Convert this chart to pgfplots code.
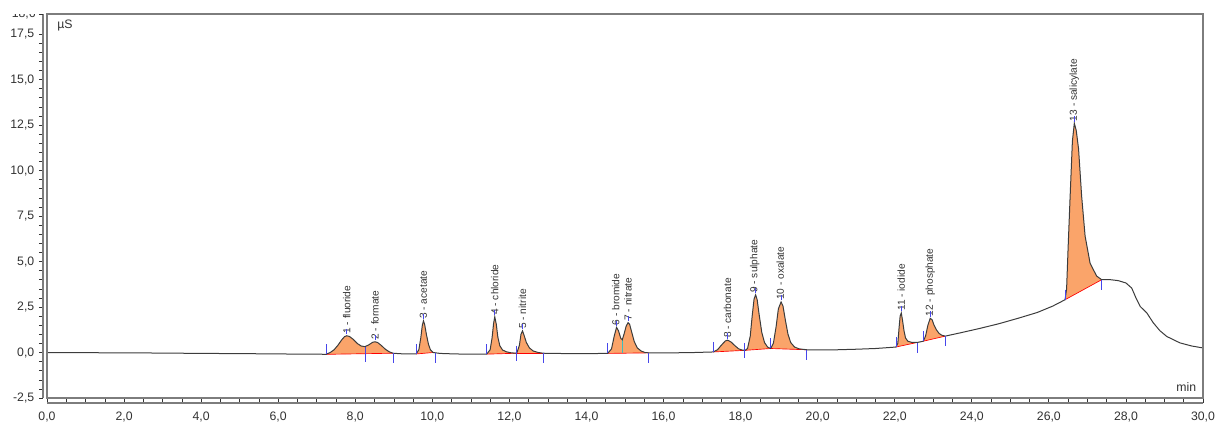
\documentclass[border=0pt]{standalone}
\usepackage{fontspec}
\setmainfont{Liberation Sans}
\usepackage{pgfplots}
\usepackage{pgfplotstable}
\pgfplotsset{compat=1.18}

\definecolor{peakfill}{RGB}{250,164,106}
\definecolor{curvecol}{RGB}{60,60,60}
\definecolor{boxgray}{RGB}{125,125,125}
\definecolor{markblue}{RGB}{70,70,235}
\definecolor{splitcol}{RGB}{60,190,190}
\definecolor{txt}{RGB}{50,50,50}

% chromatogram, time (min) vs conductivity (uS)
\pgfplotstableread{
x y
0 0.00
1 -0.01
2 -0.02
3 -0.03
4 -0.05
5 -0.06
6 -0.08
7 -0.09
7.24 -0.10
7.35 0.0
7.45 0.15
7.55 0.40
7.65 0.70
7.72 0.87
7.78 0.92
7.85 0.88
7.95 0.72
8.05 0.50
8.15 0.36
8.25 0.32
8.35 0.42
8.45 0.56
8.51 0.59
8.58 0.55
8.68 0.38
8.78 0.18
8.88 0.04
8.98 -0.04
9.2 -0.07
9.58 -0.08
9.65 0.15
9.70 0.80
9.74 1.50
9.77 1.74
9.80 1.55
9.85 0.95
9.90 0.45
9.95 0.15
10.02 0.0
10.2 -0.05
10.6 -0.08
11.0 -0.09
11.41 -0.09
11.50 0.15
11.55 0.8
11.59 1.6
11.62 1.96
11.66 1.55
11.70 0.85
11.75 0.38
11.82 0.14
11.92 0.04
12.05 -0.02
12.19 -0.04
12.26 0.4
12.30 1.0
12.34 1.19
12.38 0.95
12.44 0.55
12.52 0.25
12.62 0.08
12.75 0.0
12.88 -0.04
13.5 -0.06
14.0 -0.06
14.55 -0.05
14.65 0.2
14.72 0.9
14.78 1.38
14.83 1.2
14.89 0.78
14.93 0.70
14.98 1.05
15.03 1.45
15.08 1.64
15.12 1.55
15.17 1.15
15.24 0.6
15.32 0.25
15.42 0.08
15.52 0.0
15.62 -0.02
16.2 -0.02
16.8 0.0
17.29 0.03
17.4 0.15
17.5 0.4
17.6 0.63
17.66 0.68
17.75 0.58
17.85 0.38
17.95 0.2
18.05 0.13
18.12 0.12
18.18 0.22
18.25 0.9
18.30 2.0
18.35 2.95
18.39 3.17
18.43 2.9
18.48 2.1
18.55 1.1
18.62 0.55
18.70 0.3
18.78 0.22
18.85 0.5
18.92 1.4
18.98 2.4
19.05 2.78
19.10 2.55
19.16 1.8
19.23 1.0
19.30 0.55
19.40 0.3
19.52 0.2
19.72 0.15
20.5 0.15
21.0 0.18
21.5 0.22
22.03 0.30
22.08 0.5
22.11 1.3
22.14 2.0
22.17 2.17
22.20 1.8
22.24 1.2
22.28 0.8
22.34 0.62
22.45 0.55
22.58 0.55
22.74 0.62
22.80 0.9
22.86 1.5
22.92 1.88
22.97 1.8
23.02 1.5
23.08 1.25
23.15 1.05
23.22 0.95
23.31 0.9
23.7 1.08
24.2 1.32
24.7 1.58
25.2 1.88
25.7 2.2
26.1 2.55
26.42 2.9
26.46 3.5
26.50 5.8
26.55 8.5
26.61 11.6
26.66 12.6
26.71 12.2
26.77 11.2
26.85 8.6
26.94 6.4
27.07 4.9
27.24 4.2
27.37 4.0
27.6 4.0
27.8 3.95
28.0 3.82
28.15 3.54
28.26 3.0
28.37 2.53
28.54 2.18
28.71 1.63
28.88 1.2
29.06 0.88
29.4 0.53
29.7 0.36
30.0 0.25
}\chrom

\begin{document}
\begin{tikzpicture}[
  peaklbl/.style={rotate=90, anchor=west, inner sep=1pt, text=txt,
    font=\fontsize{7.6}{9}\selectfont},
  pk/.style={draw=none, fill=peakfill},
  bl/.style={red, line width=0.5pt},
  mk/.style={only marks, mark=|, color=markblue,
    mark options={draw=markblue, line width=0.6pt}},
]
\begin{axis}[
  scale only axis, width=867pt, height=288pt,
  xmin=0, xmax=30, ymin=-2.5, ymax=18.6,
  axis lines=left,
  axis line style={-, draw=boxgray, line width=0.8pt},
  axis x line shift=3.75pt, axis y line shift=3pt,
  xtick={0,2,...,30}, minor x tick num=3,
  ytick={-2.5,0,2.5,5,7.5,10,12.5,15,17.5}, minor y tick num=4,
  extra y ticks={18.6}, extra y tick labels={},
  tick align=outside,
  major tick length=3pt, minor tick length=3pt,
  tick style={black!80, line width=0.6pt},
  minor tick style={line width=0.4pt},
  every x tick/.append style={yshift=3pt},
  ticklabel style={font=\fontsize{9.2}{11}\selectfont, text=txt},
  /pgf/number format/fixed, /pgf/number format/fixed zerofill,
  /pgf/number format/precision=1, /pgf/number format/use comma,
  /pgf/number format/assume math mode=true,
]
% peak areas
\addplot[pk, restrict x to domain=7.23:8.99] table {\chrom} -- cycle;
\addplot[pk, restrict x to domain=9.57:10.03] table {\chrom} -- cycle;
\addplot[pk, restrict x to domain=11.40:12.20] table {\chrom} -- cycle;
\addplot[pk, restrict x to domain=12.18:12.89] table {\chrom} -- cycle;
\addplot[pk, restrict x to domain=14.54:15.63] table {\chrom} -- cycle;
\addplot[pk, restrict x to domain=17.28:18.13] table {\chrom} -- cycle;
\addplot[pk, restrict x to domain=18.11:18.79] table {\chrom} -- cycle;
\addplot[pk, restrict x to domain=18.77:19.73] table {\chrom} -- cycle;
\addplot[pk, restrict x to domain=22.02:22.59] table {\chrom} -- cycle;
\addplot[pk, restrict x to domain=22.73:23.32] table {\chrom} -- cycle;
\addplot[pk, restrict x to domain=26.41:27.38] table {\chrom} -- cycle;

% baselines
\addplot[bl] coordinates {(7.24,-0.10) (8.98,-0.04)};
\addplot[bl] coordinates {(9.58,-0.08) (10.02,0.0)};
\addplot[bl] coordinates {(11.41,-0.09) (12.19,-0.04)};
\addplot[bl] coordinates {(12.19,-0.04) (12.88,-0.04)};
\addplot[bl] coordinates {(14.55,-0.05) (15.62,-0.02)};
\addplot[bl] coordinates {(17.29,0.03) (18.12,0.12)};
\addplot[bl] coordinates {(18.12,0.12) (18.78,0.22)};
\addplot[bl] coordinates {(18.78,0.22) (19.72,0.15)};
\addplot[bl] coordinates {(22.03,0.30) (22.58,0.55)};
\addplot[bl] coordinates {(22.74,0.62) (23.31,0.9)};
\addplot[bl] coordinates {(26.42,2.9) (27.37,4.0)};

% split lines
\addplot[markblue, line width=0.6pt] coordinates {(8.25,-0.5) (8.25,0.32)};
\addplot[splitcol, line width=0.8pt] coordinates {(14.93,-0.04) (14.93,0.70)};

% signal
\addplot[curvecol, line width=0.75pt] table {\chrom};

% start / end markers
\addplot[mk, mark size=3.75pt] coordinates {
  (7.24,0.18) (9.58,0.2) (11.41,0.19) (14.55,0.23) (17.29,0.31)
  (22.03,0.58) (22.74,0.9) (26.42,3.18) (18.78,0.5)};
\addplot[mk, mark size=3.75pt] coordinates {
  (8.98,-0.32) (10.07,-0.28) (12.88,-0.32) (15.62,-0.3) (19.72,-0.13)
  (22.58,0.27) (23.31,0.62) (27.37,3.72)};
\addplot[mk, mark size=5.5pt] coordinates {
  (12.19,-0.04) (18.10,0.12)};

% apex ticks
\addplot[mk, mark size=2pt] coordinates {
  (7.78,1.15) (8.51,0.82) (9.77,1.97) (11.62,2.19) (12.34,1.42)
  (14.78,1.61) (15.08,1.87) (17.66,0.91) (18.39,3.40) (19.05,3.01)
  (22.17,2.40) (22.92,2.11) (26.66,12.83)};

\node[peaklbl] at (axis cs:7.78,0.95) {1 - fluoride};
\node[peaklbl] at (axis cs:8.51,0.62) {2 - formate};
\node[peaklbl] at (axis cs:9.77,1.77) {3 - acetate};
\node[peaklbl] at (axis cs:11.62,1.99) {4 - chloride};
\node[peaklbl] at (axis cs:12.34,1.22) {5 - nitrite};
\node[peaklbl] at (axis cs:14.76,1.41) {6 - bromide};
\node[peaklbl] at (axis cs:15.08,1.67) {7 - nitrate};
\node[peaklbl] at (axis cs:17.66,0.71) {8 - carbonate};
\node[peaklbl] at (axis cs:18.37,3.20) {9 - sulphate};
\node[peaklbl] at (axis cs:19.03,2.81) {10 - oxalate};
\node[peaklbl] at (axis cs:22.17,2.20) {11 - iodide};
\node[peaklbl] at (axis cs:22.92,1.91) {12 - phosphate};
\node[peaklbl] at (axis cs:26.66,12.63) {13 - salicylate};
\end{axis}

\draw[boxgray, line width=0.9pt] (current axis.south west) rectangle (current axis.north east);
\node[anchor=north west, inner sep=0pt, text=txt, font=\fontsize{9.2}{11}\selectfont]
  at ([shift={(7.5pt,-4.5pt)}]current axis.north west) {µS};
\node[anchor=south east, inner sep=0pt, text=txt, font=\fontsize{9.2}{11}\selectfont]
  at ([shift={(-5pt,4.5pt)}]current axis.south east) {min};
\begin{scope}
  \clip ([shift={(-40pt,-0.6pt)}]current axis.north west) rectangle ([shift={(-4pt,-12pt)}]current axis.north west);
  \node[anchor=east, inner sep=0pt, text=txt, font=\fontsize{9.2}{11}\selectfont]
    at ([xshift=-8.25pt]current axis.north west) {18,6};
\end{scope}

\pgfresetboundingbox
\path[use as bounding box] ([shift={(-35.25pt,-18pt)}]current axis.south west)
  rectangle ([shift={(9.75pt,10.5pt)}]current axis.north east);
\end{tikzpicture}
\end{document}
